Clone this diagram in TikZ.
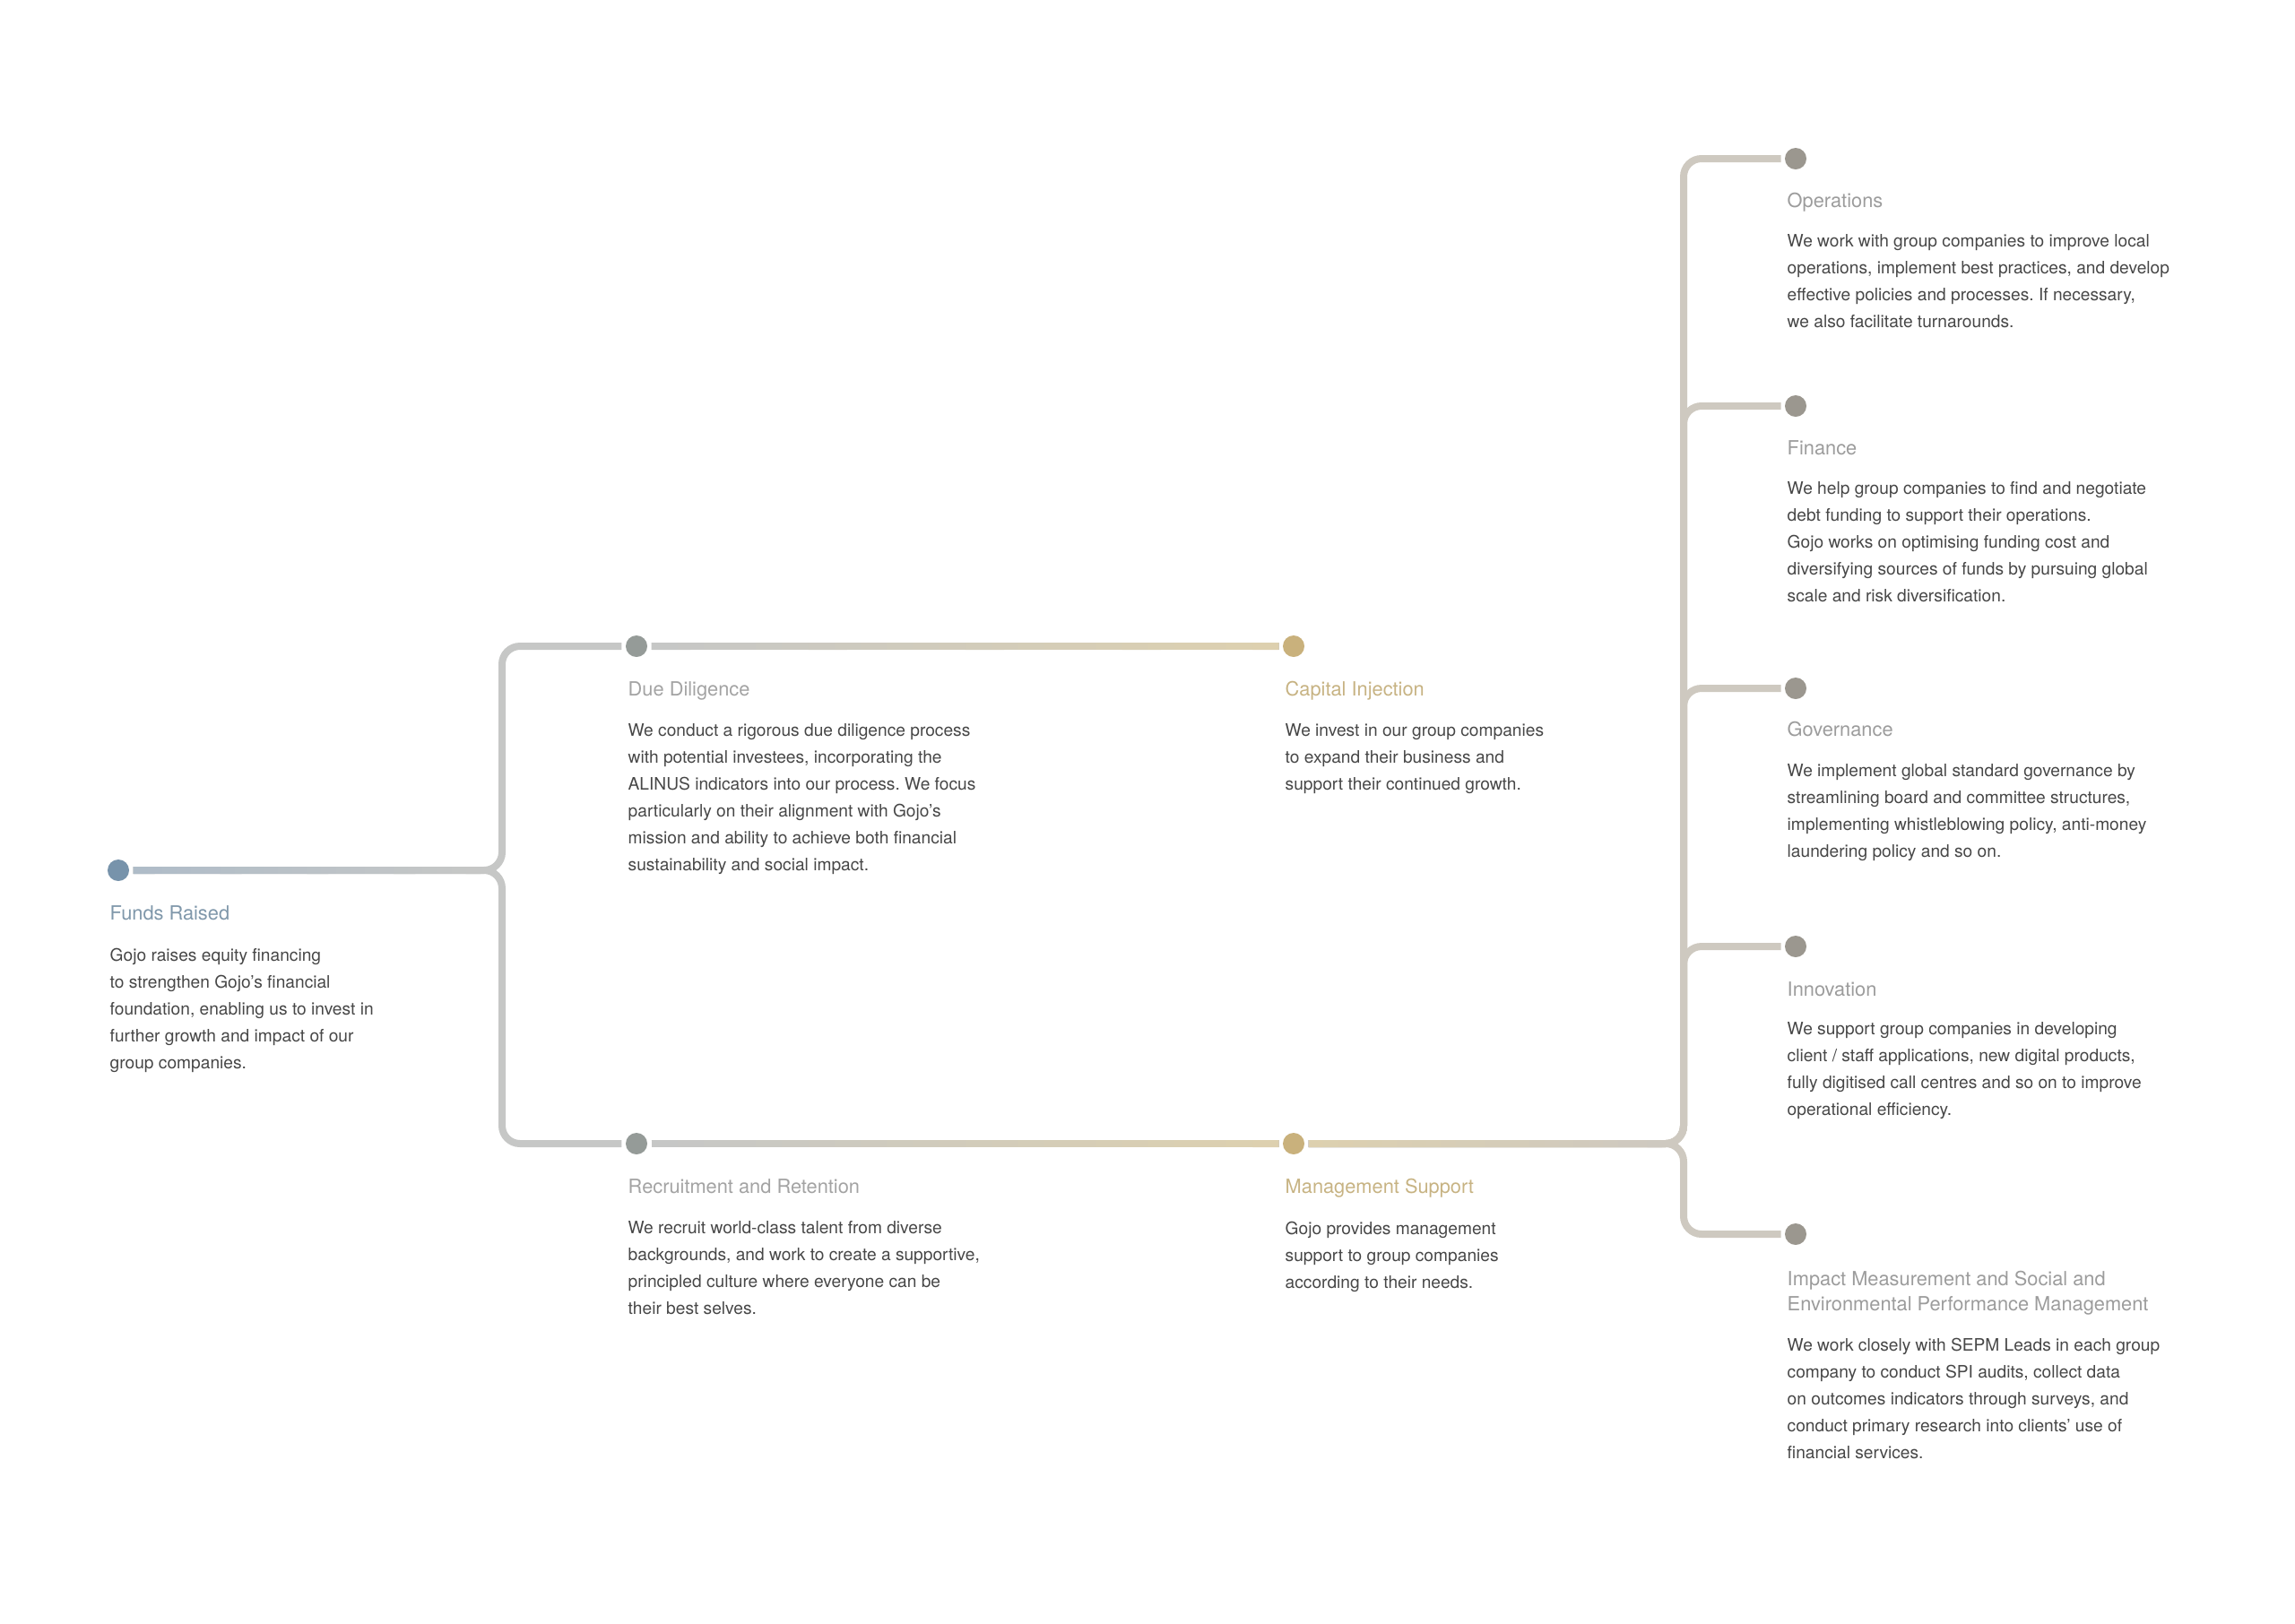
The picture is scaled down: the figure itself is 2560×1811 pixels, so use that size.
\documentclass[tikz,border=0pt]{standalone}
\usepackage{fontspec}
\setmainfont{TeX Gyre Heros}
\usetikzlibrary{calc}

\definecolor{fundsdot}{HTML}{7793AB}
\definecolor{fundsline}{HTML}{AFBCC8}
\definecolor{greydot}{HTML}{959B98}
\definecolor{greyline}{HTML}{C6C7C6}
\definecolor{tandot}{HTML}{C9B17C}
\definecolor{tanline}{HTML}{DDD0AF}
\definecolor{warmdot}{HTML}{9B978F}
\definecolor{trunkline}{HTML}{CEC9C0}
\definecolor{inkgrey}{HTML}{474747}
\definecolor{fundshead}{HTML}{7F97AA}
\definecolor{greyhead}{HTML}{A3A3A3}
\definecolor{tanhead}{HTML}{C7B383}
\definecolor{warmhead}{HTML}{9C9C9C}

\tikzset{
  stopdot/.style={circle, fill=#1, minimum size=0.24cm, inner sep=0pt, outer sep=0.045cm},
  link/.style={line width=0.08cm, rounded corners=0.2cm},
  headtext/.style={anchor=north west, inner sep=0pt, align=left, text=#1,
    font=\fontsize{6.2}{7.97}\selectfont, execute at begin node=\strut},
  bodycopy/.style={anchor=north west, inner sep=0pt, align=left, text=inkgrey,
    font=\fontsize{5.45}{8.54}\selectfont, execute at begin node=\strut}
}

\newcommand\fadeline[4]{%
  \foreach \i in {0,...,23}{%
    \pgfmathtruncatemacro\mix{100-100*\i/23}%
    \pgfmathsetmacro\fa{\i/24}%
    \pgfmathsetmacro\fb{min((\i+1.5)/24,1)}%
    \draw[line width=0.08cm, #3!\mix!#4] ($(#1)!\fa!(#2)$) -- ($(#1)!\fb!(#2)$);
  }}

\frenchspacing

\begin{document}
\begin{tikzpicture}[x=0.01cm, y=-0.01cm]
  \useasboundingbox (0,0) rectangle (2560,1811);

  \coordinate (lfork) at (560,971);
  \coordinate (lbend) at (536,971);
  \coordinate (rfork) at (1878,1276);
  \coordinate (rbend) at (1854,1276);

  \node[stopdot=fundsdot] (funds) at (132,971) {};
  \node[stopdot=greydot] (due) at (710,721) {};
  \node[stopdot=tandot] (capital) at (1443,721) {};
  \node[stopdot=greydot] (recruit) at (710,1276) {};
  \node[stopdot=tandot] (mgmt) at (1443,1276) {};
  \node[stopdot=warmdot] (ops) at (2003,177) {};
  \node[stopdot=warmdot] (fin) at (2003,453) {};
  \node[stopdot=warmdot] (gov) at (2003,768) {};
  \node[stopdot=warmdot] (innov) at (2003,1056) {};
  \node[stopdot=warmdot] (impact) at (2003,1377) {};

  \draw[link, greyline] (funds) -- (lfork) |- (due);
  \draw[link, greyline] (funds) -- (lfork) |- (recruit);
  \fadeline{funds.east}{lbend}{fundsline}{greyline}

  \draw[link, greyline] (due) -- (capital);
  \fadeline{due.east}{capital.west}{greyline}{tanline}
  \draw[link, greyline] (recruit) -- (mgmt);
  \fadeline{recruit.east}{mgmt.west}{greyline}{tanline}

  \foreach \b in {ops,fin,gov,innov,impact}
    \draw[link, trunkline] (mgmt) -- (rfork) |- (\b);
  \fadeline{mgmt.east}{rbend}{tanline}{trunkline}

  \node[headtext=fundshead] (fundstitle) at (122,1006) {Funds Raised};
  \node[bodycopy] (fundsbody) at (122,1057) {Gojo raises equity financing\\
    to strengthen Gojo’s financial\\
    foundation, enabling us to invest in\\
    further growth and impact of our\\
    group companies.};

  \node[headtext=greyhead] (duetitle) at (700,756) {Due Diligence};
  \node[bodycopy] (duebody) at (700,807) {We conduct a rigorous due diligence process\\
    with potential investees, incorporating the\\
    ALINUS indicators into our process. We focus\\
    particularly on their alignment with Gojo’s\\
    mission and ability to achieve both financial\\
    sustainability and social impact.};

  \node[headtext=tanhead] (capitaltitle) at (1433,756) {Capital Injection};
  \node[bodycopy] (capitalbody) at (1433,807) {We invest in our group companies\\
    to expand their business and\\
    support their continued growth.};

  \node[headtext=greyhead] (recruittitle) at (700,1311) {Recruitment and Retention};
  \node[bodycopy] (recruitbody) at (700,1362) {We recruit world-class talent from diverse\\
    backgrounds, and work to create a supportive,\\
    principled culture where everyone can be\\
    their best selves.};

  \node[headtext=tanhead] (mgmttitle) at (1433,1311) {Management Support};
  \node[bodycopy] (mgmtbody) at (1433,1362) {Gojo provides management\\
    support to group companies\\
    according to their needs.};

  \node[headtext=warmhead] (opstitle) at (1993,211) {Operations};
  \node[bodycopy] (opsbody) at (1993,261) {We work with group companies to improve local\\
    operations, implement best practices, and develop\\
    effective policies and processes. If necessary,\\
    we also facilitate turnarounds.};

  \node[headtext=warmhead] (fintitle) at (1993,487) {Finance};
  \node[bodycopy] (finbody) at (1993,537) {We help group companies to find and negotiate\\
    debt funding to support their operations.\\
    Gojo works on optimising funding cost and\\
    diversifying sources of funds by pursuing global\\
    scale and risk diversification.};

  \node[headtext=warmhead] (govtitle) at (1993,801) {Governance};
  \node[bodycopy] (govbody) at (1993,852) {We implement global standard governance by\\
    streamlining board and committee structures,\\
    implementing whistleblowing policy, anti-money\\
    laundering policy and so on.};

  \node[headtext=warmhead] (innovtitle) at (1993,1091) {Innovation};
  \node[bodycopy] (innovbody) at (1993,1140) {We support group companies in developing\\
    client / staff applications, new digital products,\\
    fully digitised call centres and so on to improve\\
    operational efficiency.};

  \node[headtext=warmhead] (impacttitle) at (1993,1417) {Impact Measurement and Social and\\
    Environmental Performance Management};
  \node[bodycopy] (impactbody) at (1993,1492) {We work closely with SEPM Leads in each group\\
    company to conduct SPI audits, collect data\\
    on outcomes indicators through surveys, and\\
    conduct primary research into clients’ use of\\
    financial services.};
\end{tikzpicture}
\end{document}
